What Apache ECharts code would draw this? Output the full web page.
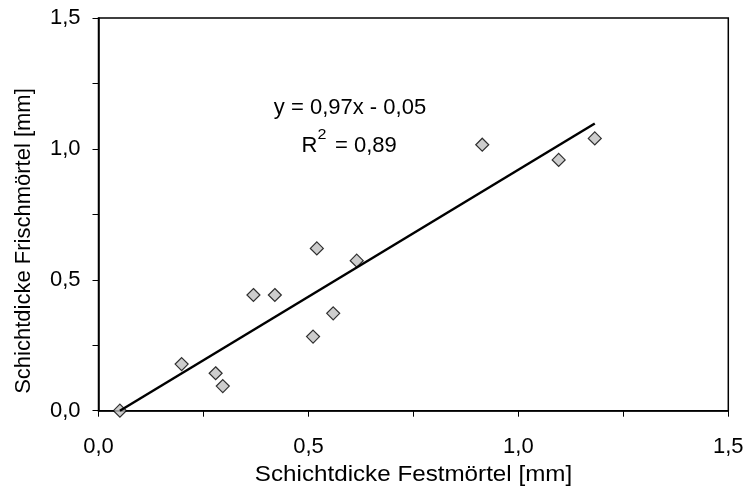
<!DOCTYPE html>
<html>
<head>
<meta charset="utf-8">
<script src="https://cdn.jsdelivr.net/npm/echarts@6/dist/echarts.min.js"></script>
<style>
html,body{margin:0;padding:0;background:#fff;}
#chart{width:747px;height:492px;}
</style>
</head>
<body>
<div id="chart"></div>
<script>
// Data
const festX   = [0.051, 0.198, 0.279, 0.296, 0.369, 0.420, 0.511, 0.520, 0.559, 0.615, 0.914, 1.096, 1.182];
const frischY = [0.000, 0.178, 0.143, 0.094, 0.442, 0.442, 0.283, 0.620, 0.372, 0.573, 1.016, 0.958, 1.040];
const trendX  = [0.051, 1.182];
const trendY  = [0.000, 1.097];
const tickValues = [0, 0.5, 1.0, 1.5];
const xTitle = 'Schichtdicke Festmörtel [mm]';
const yTitle = 'Schichtdicke Frischmörtel [mm]';
const eqText = 'y = 0,97x - 0,05';
const r2Value = '= 0,89';

const FONT = '"Liberation Sans", Arial, sans-serif';
const chart = echarts.init(document.getElementById('chart'), null, {renderer: 'canvas'});

function fmt(v) {
  for (const t of tickValues) {
    if (Math.abs(v - t) < 1e-6) return t.toFixed(1).replace('.', ',');
  }
  return '';
}

const axisCommon = {
  type: 'value', min: 0, max: 1.5, interval: 0.25,
  axisLine: {show: true, onZero: false, lineStyle: {color: '#000', width: 1.5}},
  axisTick: {show: true, inside: false, length: 6, lineStyle: {color: '#000', width: 1}},
  splitLine: {show: false},
  axisLabel: {formatter: fmt, color: '#000', fontFamily: FONT, fontSize: 22}
};

const scatterData = festX.map((x, i) => [x, frischY[i]]);
const trendData = trendX.map((x, i) => [x, trendY[i]]);

chart.setOption({
  animation: false,
  backgroundColor: '#fff',
  grid: {left: 98.5, right: 18.7, top: 18, bottom: 81.3, show: true, borderColor: '#000', borderWidth: 1.5, backgroundColor: 'transparent'},
  xAxis: Object.assign({}, axisCommon, {axisLabel: Object.assign({}, axisCommon.axisLabel, {margin: 25})}),
  yAxis: Object.assign({}, axisCommon, {axisLabel: Object.assign({}, axisCommon.axisLabel, {margin: 18})}),
  series: [
    {
      type: 'scatter', data: scatterData, symbol: 'diamond', symbolSize: 13, z: 2,
      itemStyle: {color: '#c0c0c0', borderColor: '#000', borderWidth: 1.2}
    },
    {
      type: 'line', data: trendData, symbol: 'none', z: 3,
      lineStyle: {color: '#000', width: 2.5}
    }
  ],
  graphic: [
    {type: 'text', x: 413.5, y: 475, scaleX: 1.1, z: 10, style: {text: xTitle, fill: '#000', font: '22px ' + FONT, textAlign: 'center', textVerticalAlign: 'middle'}},
    {type: 'text', x: 24, y: 241, rotation: Math.PI / 2, z: 10, style: {text: yTitle, fill: '#000', font: '22px ' + FONT, textAlign: 'center', textVerticalAlign: 'middle'}},
    {type: 'text', x: 350, y: 107.5, z: 10, style: {text: eqText, fill: '#000', font: '22px ' + FONT, textAlign: 'center', textVerticalAlign: 'middle'}},
    {type: 'text', x: 301.5, y: 146, z: 10, style: {text: 'R', fill: '#000', font: '22px ' + FONT, textAlign: 'left', textVerticalAlign: 'middle'}},
    {type: 'text', x: 317.5, y: 135, scaleX: 1.15, z: 10, style: {text: '2', fill: '#000', font: '14px ' + FONT, textAlign: 'left', textVerticalAlign: 'middle'}},
    {type: 'text', x: 335, y: 146, z: 10, style: {text: r2Value, fill: '#000', font: '22px ' + FONT, textAlign: 'left', textVerticalAlign: 'middle'}}
  ]
});
</script>
</body>
</html>
